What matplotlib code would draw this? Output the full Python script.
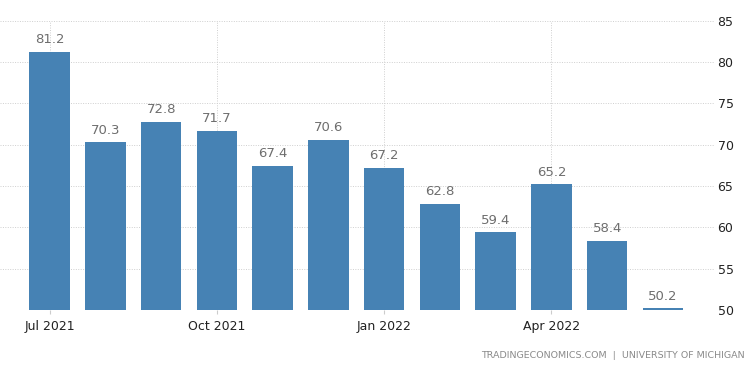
import matplotlib
matplotlib.use("Agg")
import matplotlib.pyplot as plt

# monthly values, Jul 2021 - Jun 2022
months = ["Jul 2021", "Aug 2021", "Sep 2021", "Oct 2021", "Nov 2021", "Dec 2021",
          "Jan 2022", "Feb 2022", "Mar 2022", "Apr 2022", "May 2022", "Jun 2022"]
values = [81.2, 70.3, 72.8, 71.7, 67.4, 70.6, 67.2, 62.8, 59.4, 65.2, 58.4, 50.2]
tick_idx = [0, 3, 6, 9]
yticks = [50, 55, 60, 65, 70, 75, 80, 85]

plt.rcParams['font.family'] = ['DejaVu Sans']

fig = plt.figure(figsize=(7.5, 3.73), dpi=100)
ax = fig.add_axes([0.0, 0.169, 0.953, 0.775])

x = list(range(len(values)))
ax.bar(x, values, width=0.73, color="#4682b4", zorder=3)
for i, v in enumerate(values):
    ax.text(i, v + 0.7, f"{v:.1f}", ha="center", va="bottom", fontsize=9.5, color="#6e6e6e", zorder=4)

ax.set_ylim(50, 85)
ax.set_xlim(-0.89, 11.93)
ax.yaxis.tick_right()
ax.set_yticks(yticks)
ax.set_xticks(tick_idx)
ax.set_xticklabels([months[i] for i in tick_idx])
ax.tick_params(axis="y", length=0, pad=2, labelsize=9, labelcolor="#222222")
ax.tick_params(axis="x", length=3, color="#cccccc", pad=4, labelsize=9, labelcolor="#222222")
ax.grid(True, linestyle=(0, (1, 1.5)), color="#cfcfcf", linewidth=0.7, zorder=0)
for s in ax.spines.values():
    s.set_visible(False)

fig.text(0.993, 0.035, "TRADINGECONOMICS.COM  |  UNIVERSITY OF MICHIGAN", ha="right", va="bottom",
         fontsize=6.8, color="#8a8a8a")

fig.savefig("out.png", dpi=100)
